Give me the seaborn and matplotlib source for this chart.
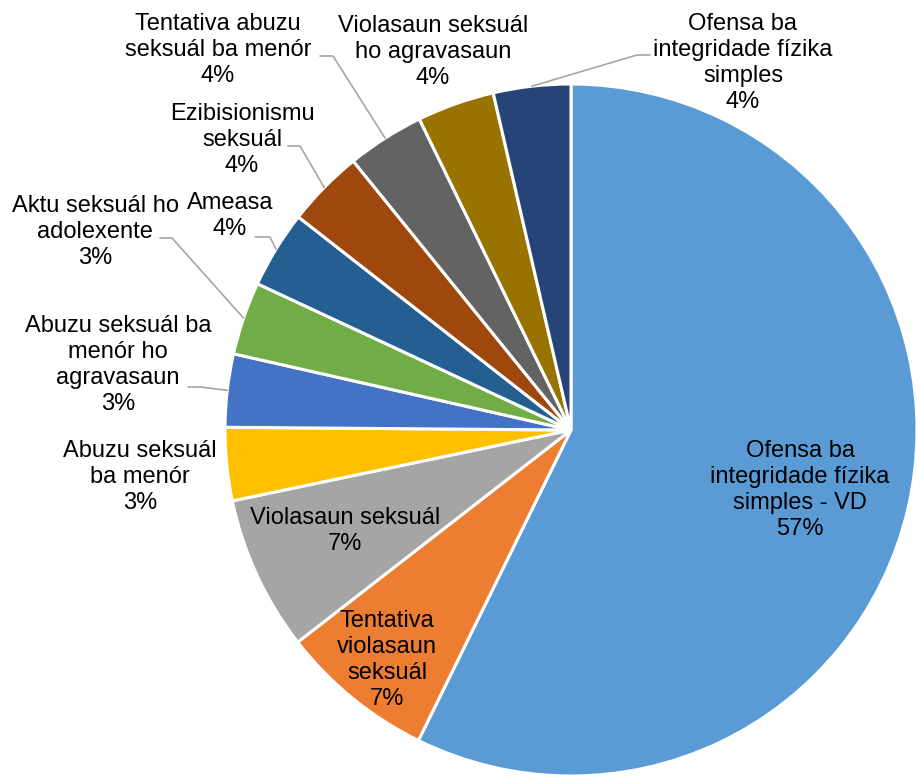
import numpy as np
import matplotlib.pyplot as plt
import seaborn as sns

# share of cases per crime type (percent), clockwise from 12 o'clock
categories = [
    "Ofensa ba\nintegridade fízika\nsimples - VD",
    "Tentativa\nviolasaun\nseksuál",
    "Violasaun seksuál",
    "Abuzu seksuál\nba menór",
    "Abuzu seksuál ba\nmenór ho\nagravasaun",
    "Aktu seksuál ho\nadolexente",
    "Ameasa",
    "Ezibisionismu\nseksuál",
    "Tentativa abuzu\nseksuál ba menór",
    "Violasaun seksuál\nho agravasaun",
    "Ofensa ba\nintegridade fízika\nsimples",
]
values = [57.1, 7.2, 7.2, 3.4, 3.4, 3.4, 3.6, 3.6, 3.6, 3.6, 3.6]
colors = ["#5B9BD5", "#ED7D31", "#A5A5A5", "#FFC000", "#4472C4", "#70AD47",
          "#255E91", "#9E480E", "#636363", "#997300", "#264478"]

# label layout (pixel coords, y from top) and leader-line elbows (None = inside / no line)
label_pos = [(800, 490), (387, 660), (345, 531), (140, 477), (118, 365),
             (95, 232), (230, 216), (242, 140), (218, 50), (433, 52), (743, 63)]
elbows = [None, None, None, None, [(188, 387), (200, 387)],
          [(160, 238), (172, 238)], [(255, 237), (270, 237)],
          [(288, 146), (300, 146)], [(320, 56), (333, 56)], None,
          [(650, 55), (637, 55)]]

W, H = 917, 777
cx, cy, R = 571, 430, 346

sns.set_theme(style="white")
plt.rcParams['font.family'] = ['Liberation Sans', 'DejaVu Sans']

fig = plt.figure(figsize=(W / 100, H / 100), dpi=100)
ax = fig.add_axes([0, 0, 1, 1])
ax.axis("off")

wedges, _ = ax.pie(values, colors=sns.color_palette(colors), startangle=90,
                   counterclock=False, center=(cx, H - cy), radius=R,
                   wedgeprops=dict(edgecolor="white", linewidth=2.2))
ax.set_xlim(0, W)
ax.set_ylim(0, H)

total = sum(values)
for w, name, v, (tx, ty), elb in zip(wedges, categories, values, label_pos, elbows):
    pct = v / total * 100
    ax.text(tx, H - ty, f"{name}\n{pct:.0f}%", ha="center", va="center",
            fontsize=17, linespacing=1.23, color="black")
    if elb is not None:
        mid = np.deg2rad((w.theta1 + w.theta2) / 2)
        ax_pt = (cx + R * np.cos(mid), H - cy + R * np.sin(mid))
        xs = [elb[0][0], elb[1][0], ax_pt[0]]
        ys = [H - elb[0][1], H - elb[1][1], ax_pt[1]]
        ax.plot(xs, ys, color="#A6A6A6", lw=1.2)

fig.savefig("out.png", dpi=100)
